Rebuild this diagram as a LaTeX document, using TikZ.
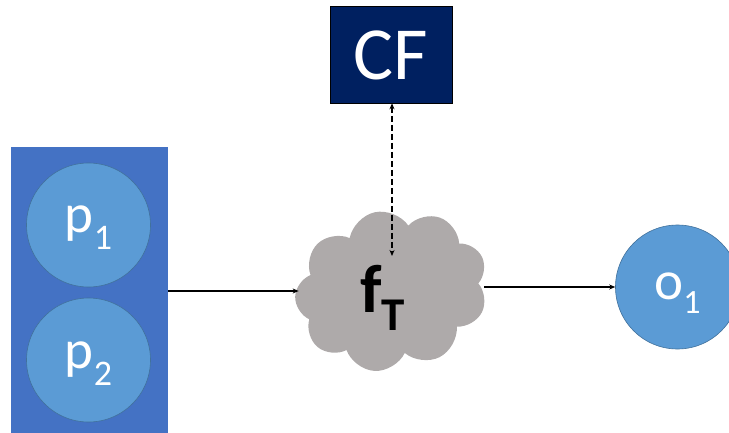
\documentclass[tikz,border=0pt]{standalone}
\usepackage{fontspec}
\setmainfont{Carlito}
\usetikzlibrary{shapes.symbols,arrows.meta}
\definecolor{navy}{HTML}{002060}
\definecolor{panelblue}{HTML}{4472C4}
\definecolor{ballblue}{HTML}{5B9BD5}
\definecolor{balledge}{HTML}{41719C}
\definecolor{cloudgray}{HTML}{AEAAAA}
% lowered index: #1 drop, #2 size, #3 text
\newcommand\lowidx[3]{\raisebox{-#1}{\fontsize{#2}{#2}\selectfont #3}}
\begin{document}
\begin{tikzpicture}[x=1pt,y=-1pt,
  panel/.style={rectangle, fill=panelblue, draw=none, inner sep=0pt},
  ball/.style={circle, fill=ballblue, draw=balledge, line width=0.6pt,
    minimum size=124pt, inner sep=0pt, text=white,
    font=\fontsize{55}{55}\selectfont},
  cfbox/.style={rectangle, fill=navy, draw=black, line width=0.6pt,
    minimum width=122pt, minimum height=97pt, inner sep=0pt, text=white,
    font=\fontsize{75}{75}\selectfont, text height=52pt, text depth=1pt},
  puffy/.style={cloud, cloud puffs=9, cloud puff arc=135, aspect=1.2,
    fill=cloudgray, draw=none, minimum width=194pt, minimum height=160pt,
    inner sep=0pt},
  arr/.style={line width=1.1pt, -{Stealth[length=6pt,width=5pt]}},
  dasharr/.style={line width=1.1pt, dash pattern=on 6pt off 3pt,
    {Stealth[length=6pt,width=5pt]}-{Stealth[length=6pt,width=5pt]}}
]
\useasboundingbox (0,0) rectangle (729,433);
\clip (0,0) rectangle (729,433);

% input panel with its two parameters
\node[panel, minimum width=157pt, minimum height=300pt] (inputs) at (89.5,297) {};
\node[ball, text height=26pt, text depth=10pt] (p1) at (88.5,225) {p\lowidx{17pt}{36}{1}};
\node[ball, text height=26pt, text depth=10pt] (p2) at (88.5,360) {p\lowidx{17pt}{36}{2}};

% transfer function cloud
\node[puffy, rotate=12] (cloud) at (391.5,290.5) {};
\node[anchor=base west, inner sep=0pt, font=\bfseries\fontsize{68}{68}\selectfont]
  (ft) at (360,312) {f\lowidx{18pt}{47}{T}};

% control box
\node[cfbox] (cf) at (391,54.5) {CF};

% output
\node[ball, text height=30pt, text depth=6pt] (o1) at (677.5,287) {o\lowidx{14pt}{34}{1}};

% connectors
\coordinate (cfend) at (392,256);
\draw[arr] (inputs.east |- 0,291) -- (cloud.west |- 0,291);
\draw[arr] (cloud.east |- o1.west) -- (o1.west);
\draw[dasharr] (cf.south -| cfend) -- (cfend);
\end{tikzpicture}
\end{document}
